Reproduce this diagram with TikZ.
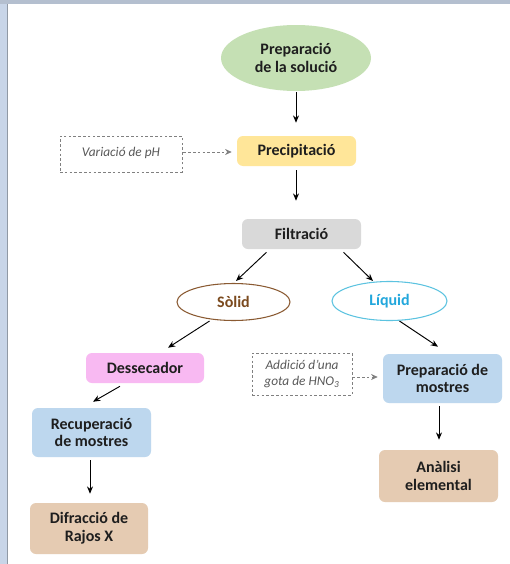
\documentclass[tikz,border=0pt]{standalone}
\usepackage{fontspec}
\setmainfont{Carlito}
\usetikzlibrary{shapes.geometric,arrows.meta,calc}
\definecolor{cgreen}{HTML}{C5E0B4}
\definecolor{cyellow}{HTML}{FFE699}
\definecolor{cgray}{HTML}{D9D9D9}
\definecolor{cpink}{HTML}{F8B9F2}
\definecolor{cblue}{HTML}{BDD7EE}
\definecolor{ctan}{HTML}{E5CBB2}
\definecolor{cbrown}{HTML}{8A5A32}
\definecolor{cbrowntext}{HTML}{7B4A1E}
\definecolor{ccyan}{HTML}{5CC3E0}
\definecolor{ccyantext}{HTML}{22A7DC}
\definecolor{cdash}{HTML}{808080}
\definecolor{cnote}{HTML}{595959}
\definecolor{cframeL}{HTML}{C8D5E8}
\definecolor{cframeT}{HTML}{B4BFCF}
\definecolor{ctext}{HTML}{1E1E1E}
\begin{document}
\begin{tikzpicture}[x=0.75pt,y=-0.75pt,
  boxtxt/.style={font=\fontsize{12}{13.3}\selectfont\bfseries, text=ctext, align=center, inner sep=0pt},
  rbox/.style={boxtxt, rounded corners=4.5pt},
  ell/.style={boxtxt, ellipse},
  note/.style={draw=cdash, dash pattern=on 2pt off 1.6pt, line width=0.6pt, inner sep=0pt,
     font=\fontsize{10}{11.8}\selectfont\itshape, text=cnote, align=center},
  arr/.style={-{Stealth[length=5.5pt,width=4.5pt]}, line width=0.7pt, black},
  darr/.style={-{Stealth[length=5pt,width=4.5pt]}, line width=0.6pt, cdash, dash pattern=on 2pt off 1.6pt}
]
\useasboundingbox (0,0) rectangle (510,564);
\fill[white] (0,0) rectangle (510,564);
\fill[cframeL] (0,0) rectangle (7,564);
\fill[cframeT] (0,0) rectangle (510,4);
\draw[cframeT!80!black, line width=0.4pt] (7.5,4) -- (7.5,564);

\node[ell, fill=cgreen, minimum width=150*0.75pt, minimum height=66*0.75pt] (sol) at (296,58) {Preparació\\de la solució};
\node[rbox, fill=cyellow, minimum width=119*0.75pt, minimum height=30*0.75pt] (pre) at (296.5,151) {Precipitació};
\node[note, minimum width=122*0.75pt, minimum height=36*0.75pt] (ph) at (121,154) {\raisebox{3.5pt}{Variació de pH}};
\node[rbox, fill=cgray, minimum width=119*0.75pt, minimum height=30*0.75pt] (fil) at (301.5,234) {Filtració};
\node[ell, draw=cbrown, line width=0.8pt, text=cbrowntext, minimum width=113*0.75pt, minimum height=37*0.75pt] (sod) at (233.5,302) {Sòlid};
\node[ell, draw=ccyan, line width=0.8pt, text=ccyantext, minimum width=115*0.75pt, minimum height=39*0.75pt] (liq) at (389.5,301) {Líquid};
\node[rbox, fill=cpink, minimum width=118*0.75pt, minimum height=30*0.75pt] (des) at (145,368) {Dessecador};
\node[rbox, fill=cblue, minimum width=119*0.75pt, minimum height=49*0.75pt] (rec) at (91.5,432.5) {Recuperació\\de mostres};
\node[rbox, fill=ctan, minimum width=118*0.75pt, minimum height=51*0.75pt] (dif) at (89,528.5) {Difracció de\\Rajos X};
\node[note, minimum width=100*0.75pt, minimum height=42*0.75pt] (hno) at (302,374) {Addició d’una\\gota de HNO\textsubscript{3}};
\node[rbox, fill=cblue, minimum width=119*0.75pt, minimum height=49*0.75pt] (pm) at (442.5,378.5) {Preparació de\\mostres};
\node[rbox, fill=ctan, minimum width=119*0.75pt, minimum height=52*0.75pt] (ana) at (438.5,476) {Anàlisi\\elemental};

\draw[arr] ($(sol.south)+(0,1)$) -- ($(pre.north)+(-0.5,-13)$);
\draw[arr] ($(pre.south)+(-0.5,4)$) -- ($(pre.south |- fil.north)+(-0.5,-18)$);
\draw[darr] ($(ph.east)+(1,-2)$) -- ($(pre.west)+(-5,1)$);
\draw[arr] ($(fil.south)+(-35,3)$) -- ($(sod.north)+(2.5,-2)$);
\draw[arr] ($(fil.south)+(42,3)$) -- ($(liq.north)+(-16.5,0)$);
\draw[arr] ($(sod.south)+(-24,0)$) -- ($(des.north)+(23,-5)$);
\draw[arr] ($(liq.south)+(10,0)$) -- ($(pm.north)+(-4.5,-7)$);
\draw[darr] ($(hno.east)+(0,3)$) -- ($(pm.west)+(-5,-1.5)$);
\draw[arr] ($(des.south)+(-25,3)$) -- ($(rec.north)+(1.5,-6)$);
\draw[arr] ($(rec.south)+(-1.5,3)$) -- ($(dif.north)+(1,-9)$);
\draw[arr] ($(pm.south)+(-3.5,3)$) -- ($(ana.north)+(0.5,-10)$);
\end{tikzpicture}
\end{document}
